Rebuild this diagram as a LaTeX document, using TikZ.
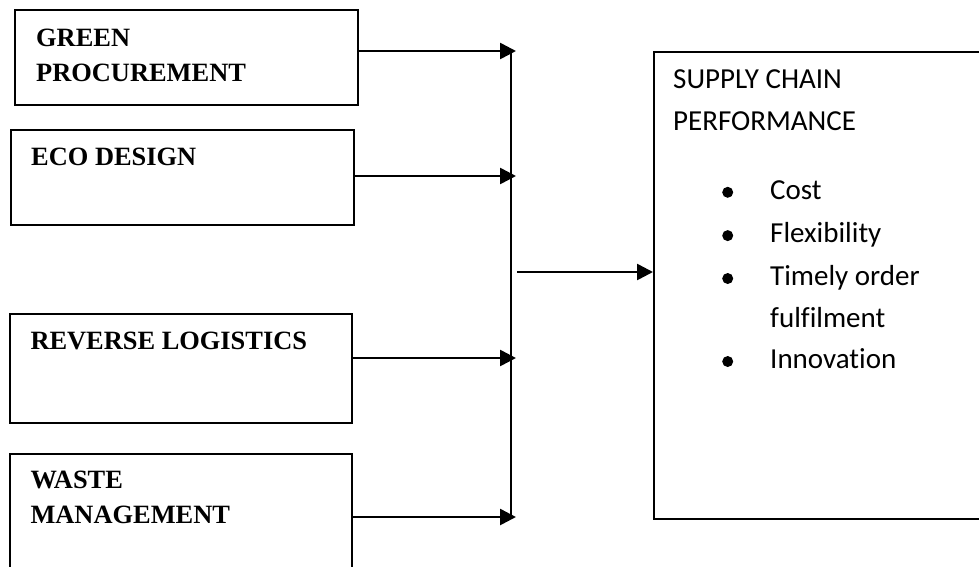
\documentclass[tikz,border=0pt]{standalone}
\usepackage{fontspec}
\setmainfont{Liberation Serif}
\newfontfamily\calib[Ligatures=NoCommon]{Carlito}
\usetikzlibrary{arrows.meta}
\tikzset{
  box/.style={draw=black, line width=1.9pt, rectangle, inner sep=0pt, anchor=north west},
  lbl/.style={inner sep=0pt, anchor=base west, font=\fontsize{26.4}{26.4}\selectfont\bfseries},
  rlbl/.style={inner sep=0pt, anchor=base west, font=\fontsize{29}{29}\selectfont\calib},
  arr/.style={line width=2.6pt, -{Triangle[length=16pt,width=16pt]}},
  bus/.style={line width=1.9pt},
  dot/.style={circle, fill=black, inner sep=0pt, minimum size=11pt}
}
\begin{document}
\begin{tikzpicture}[x=1pt,y=-1pt]
\useasboundingbox (0,0) rectangle (979,566);
\clip (0,0) rectangle (979,566);
% left boxes
\node[box, minimum width=343pt, minimum height=95pt] (gp) at (13.8,9.3) {};
\node[box, minimum width=343pt, minimum height=95pt] (ed) at (9.6,129.3) {};
\node[box, minimum width=342pt, minimum height=109pt] (rl) at (8.6,312.7) {};
\node[box, minimum width=342pt, minimum height=140pt] (wm) at (8.6,452.7) {};
% right box
\node[box, minimum width=345pt, minimum height=467pt] (sc) at (653,51) {};
% texts
\node[lbl] (gp1) at (36,46.7) {GREEN};
\node[lbl] (gp2) at (36,81.7) {PROCUREMENT};
\node[lbl] (ed1) at (31,165) {ECO DESIGN};
\node[lbl] (rl1) at (30.3,349) {REVERSE LOGISTICS};
\node[lbl] (wm1) at (30.3,488.3) {WASTE};
\node[lbl] (wm2) at (30.3,523.3) {MANAGEMENT};
\node[rlbl] (sc1) at (673,88.4) {SUPPLY CHAIN};
\node[rlbl] (sc2) at (673,130.7) {PERFORMANCE};
\node[rlbl] (b1) at (770,199.3) {Cost};
\node[rlbl] (b2) at (770,242.6) {Flexibility};
\node[rlbl] (b3) at (770,285.5) {Timely order};
\node[rlbl] (b3b) at (770,327) {fulfilment};
\node[rlbl] (b4) at (770,368.5) {Innovation};
\node[dot] (d1) at (727.7,192.3) {};
\node[dot] (d2) at (727.7,235.6) {};
\node[dot] (d3) at (727.7,278.5) {};
\node[dot] (d4) at (727.7,361.5) {};
% connectors
\coordinate (t1) at (516,51);
\coordinate (t2) at (516,176);
\coordinate (t3) at (516,358);
\coordinate (t4) at (516,517);
\coordinate (bt) at (511,51);
\coordinate (bb) at (511,518);
\coordinate (m0) at (517,272);
\draw[arr] (gp.east |- t1) -- (t1);
\draw[arr] (ed.east |- t2) -- (t2);
\draw[arr] (rl.east |- t3) -- (t3);
\draw[arr] (wm.east |- t4) -- (t4);
\draw[bus] (bt) -- (bb);
\draw[arr] (m0) -- (sc.west |- m0);
\end{tikzpicture}
\end{document}
